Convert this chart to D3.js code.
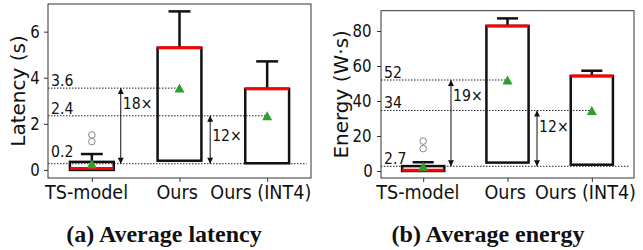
<!DOCTYPE html>
<html>
<head>
<meta charset="utf-8">
<script src="https://cdn.jsdelivr.net/npm/d3@7"></script>
<style>
  body { margin: 0; background: #fff; }
  svg text { font-family: "DejaVu Sans", sans-serif; fill: #111; }
  .sq { transform-box: fill-box; transform: scaleX(0.88); }
  .title { font-family: "Liberation Serif", serif !important; font-weight: bold; }
</style>
</head>
<body>
<div id="chart"></div>
<script>
const categories = ["TS-model", "Ours", "Ours (INT4)"];

// latency (s): box statistics per category
const latLow = [0.0, 0.40, 0.29];
const latQ1 = [0.0, 0.40, 0.29];
const latMed = [0.06, 5.30, 3.52];
const latQ3 = [0.35, 5.30, 3.52];
const latHigh = [0.69, 6.88, 4.71];
const latMean = [0.27, 3.55, 2.35];
const latFliers = [[1.23, 1.52], [], []];
const latMeanLabels = ["0.2", "3.6", "2.4"];
const latSpeedups = ["18×", "12×"];
const latTicks = [0, 2, 4, 6];

// energy (W·s)
const enLow = [0.0, 4.8, 3.6];
const enQ1 = [0.0, 4.8, 3.6];
const enMed = [0.5, 82.9, 54.3];
const enQ3 = [2.8, 82.9, 54.3];
const enHigh = [5.0, 87.2, 57.3];
const enMean = [2.7, 52.0, 34.6];
const enFliers = [[12.8, 17.1], [], []];
const enMeanLabels = ["2.7", "52", "34"];
const enSpeedups = ["19×", "12×"];
const enTicks = [0, 20, 40, 60, 80];

const width = 643, height = 250;

const svg = d3.select("#chart").append("svg")
  .attr("width", width)
  .attr("height", height);

svg.append("defs").append("marker")
  .attr("id", "head")
  .attr("viewBox", "0 0 10 10")
  .attr("refX", 10).attr("refY", 5)
  .attr("markerWidth", 7).attr("markerHeight", 6)
  .attr("markerUnits", "userSpaceOnUse")
  .attr("orient", "auto-start-reverse")
  .append("path").attr("d", "M0,0L10,5L0,10z").attr("fill", "#111");

function drawPanel(cfg) {
  const { stats, mean, fliers, meanLabels, speedups, ticks } = cfg;
  const x = d3.scaleLinear().domain([0.5, 3.5]).range([cfg.x0, cfg.x1]);
  const y = d3.scaleLinear().domain(cfg.domain).range([cfg.y1, cfg.y0]);
  const g = svg.append("g");
  const boxW = x(1.25) - x(0.75);
  const capW = x(1.125) - x(0.875);

  // dotted reference lines at the means
  const lineEnd = [3.45, 2, 3];
  mean.forEach((m, i) => {
    g.append("line")
      .attr("x1", cfg.x0).attr("x2", x(lineEnd[i]))
      .attr("y1", y(mean[i])).attr("y2", y(mean[i]))
      .attr("stroke", "#222").attr("stroke-width", 1)
      .attr("stroke-dasharray", "1.5,1.5");
    g.append("text")
      .attr("class", "sq")
      .attr("x", cfg.x0 + 3)
      .attr("y", y(mean[i]) + cfg.labelDy[i])
      .attr("font-size", 16)
      .text(meanLabels[i]);
  });

  // boxes
  categories.forEach((c, i) => {
    const cx = x(i + 1);
    g.append("line")
      .attr("x1", cx).attr("x2", cx)
      .attr("y1", y(stats.q3[i])).attr("y2", y(stats.high[i]))
      .attr("stroke", "#111").attr("stroke-width", 2.5);
    g.append("line")
      .attr("x1", cx).attr("x2", cx)
      .attr("y1", y(stats.q1[i])).attr("y2", y(stats.low[i]))
      .attr("stroke", "#111").attr("stroke-width", 2.5);
    g.append("line")
      .attr("x1", cx - capW / 2).attr("x2", cx + capW / 2)
      .attr("y1", y(stats.high[i])).attr("y2", y(stats.high[i]))
      .attr("stroke", "#111").attr("stroke-width", 2.5);
    g.append("rect")
      .attr("x", cx - boxW / 2).attr("width", boxW)
      .attr("y", y(stats.q3[i]))
      .attr("height", Math.max(0, y(stats.q1[i]) - y(stats.q3[i])))
      .attr("fill", "none").attr("stroke", "#111").attr("stroke-width", 2.5);
    g.append("line")
      .attr("x1", cx - boxW / 2).attr("x2", cx + boxW / 2)
      .attr("y1", y(stats.med[i])).attr("y2", y(stats.med[i]))
      .attr("stroke", "#ff0000").attr("stroke-width", 3);
    fliers[i].forEach(f => {
      g.append("circle")
        .attr("cx", cx).attr("cy", y(f)).attr("r", 3.3)
        .attr("fill", "none").attr("stroke", "#888").attr("stroke-width", 1);
    });
    const my = y(mean[i]);
    g.append("path")
      .attr("d", `M${cx},${my - 4.5}L${cx - 5},${my + 4.5}L${cx + 5},${my + 4.5}Z`)
      .attr("fill", "#2ca02c");
  });

  // speed-up arrows
  const arrows = [
    { at: 1.33, from: mean[1], to: mean[0], frac: cfg.textFrac[0], label: speedups[0] },
    { at: 2.35, from: mean[2], to: mean[0], frac: cfg.textFrac[1], label: speedups[1] }
  ];
  arrows.forEach(a => {
    g.append("line")
      .attr("x1", x(a.at)).attr("x2", x(a.at))
      .attr("y1", y(a.from)).attr("y2", y(a.to))
      .attr("stroke", "#111").attr("stroke-width", 1)
      .attr("marker-start", "url(#head)")
      .attr("marker-end", "url(#head)");
    g.append("text")
      .attr("class", "sq")
      .attr("x", x(a.at) + 2)
      .attr("y", y(a.to + (a.from - a.to) * a.frac))
      .attr("dominant-baseline", "central")
      .attr("font-size", 16)
      .text(a.label);
  });

  // frame
  g.append("rect")
    .attr("x", cfg.x0).attr("y", cfg.y0)
    .attr("width", cfg.x1 - cfg.x0).attr("height", cfg.y1 - cfg.y0)
    .attr("fill", "none").attr("stroke", "#333").attr("stroke-width", 1);

  const yAxis = g.append("g")
    .attr("transform", `translate(${cfg.x0},0)`)
    .call(d3.axisLeft(y).tickValues(ticks).tickSize(4).tickPadding(3));
  const xAxis = g.append("g")
    .attr("transform", `translate(0,${cfg.y1})`)
    .call(d3.axisBottom(x).tickValues([1, 2, 3]).tickFormat(d => categories[d - 1]).tickSize(4).tickPadding(3));
  [yAxis, xAxis].forEach(ax => {
    ax.select(".domain").remove();
    ax.selectAll("line").attr("stroke", "#333");
    ax.selectAll("text").attr("class", "sq").attr("fill", "#111")
      .attr("font-family", "DejaVu Sans");
  });
  yAxis.selectAll("text").attr("font-size", 17);
  xAxis.selectAll("text").attr("font-size", 20);

  g.append("text")
    .attr("transform", `translate(${cfg.ylabelX},${(cfg.y0 + cfg.y1) / 2}) rotate(-90)`)
    .attr("text-anchor", "middle")
    .attr("font-size", 20)
    .text(cfg.ylabel);

  g.append("text")
    .attr("class", "title")
    .attr("x", cfg.titleX).attr("y", 242)
    .attr("text-anchor", "middle")
    .attr("font-size", 24)
    .text(cfg.title);
}

drawPanel({
  x0: 48, x1: 311, y0: 4, y1: 178, domain: [-0.35, 7.2],
  stats: { low: latLow, q1: latQ1, med: latMed, q3: latQ3, high: latHigh },
  mean: latMean, fliers: latFliers, meanLabels: latMeanLabels,
  speedups: latSpeedups, ticks: latTicks,
  labelDy: [-7, -2, -2], textFrac: [0.79, 0.58],
  ylabel: "Latency (s)", ylabelX: 25,
  title: "(a) Average latency", titleX: 164
});

drawPanel({
  x0: 381, x1: 634, y0: 10.7, y1: 178, domain: [-4, 91.6],
  stats: { low: enLow, q1: enQ1, med: enMed, q3: enQ3, high: enHigh },
  mean: enMean, fliers: enFliers, meanLabels: enMeanLabels,
  speedups: enSpeedups, ticks: enTicks,
  labelDy: [-2, -2, -2], textFrac: [0.815, 0.71],
  ylabel: "Energy (W·s)", ylabelX: 348,
  title: "(b) Average energy", titleX: 488
});
</script>
</body>
</html>
